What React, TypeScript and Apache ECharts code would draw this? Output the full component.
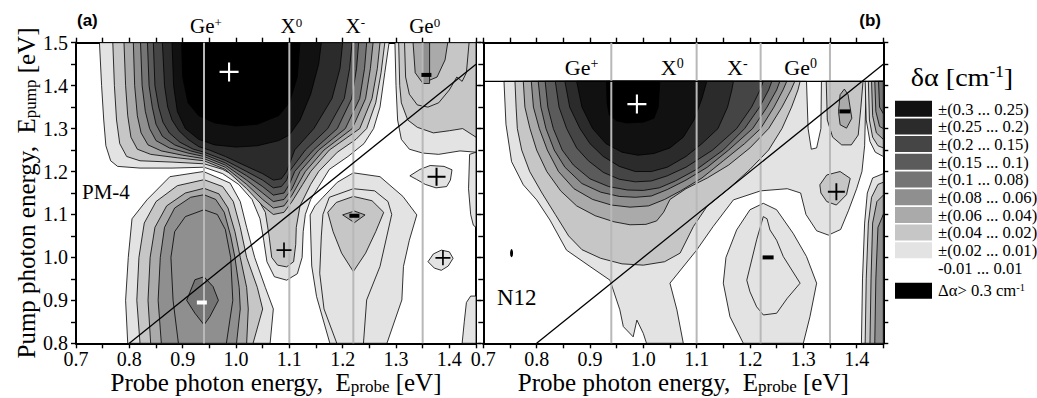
import React, { useEffect, useRef } from "react";
import * as echarts from "echarts";

type Pt = [number, number];
type Contour = [number, Pt[]];

const SERIF = "Liberation Serif, serif";
const SANS = "Liberation Sans, sans-serif";

// fill colour for each |δα| level (index = level)
const LEVEL_COLORS = ["#ffffff", "#e3e3e3", "#c6c6c6", "#aaaaaa", "#8f8f8f", "#757575", "#5b5b5b", "#454545", "#2b2b2b", "#111111", "#000000"];

const LEGEND_LABELS = ["±(0.3 ... 0.25)", "±(0.25 ... 0.2)", "±(0.2 ... 0.15)", "±(0.15 ... 0.1)", "±(0.1 ... 0.08)", "±(0.08 ... 0.06)", "±(0.06 ... 0.04)", "±(0.04 ... 0.02)", "±(0.02 ... 0.01)"];
const LEGEND_LEVELS = [9, 8, 7, 6, 5, 4, 3, 2, 1];

const PEAK_POSITIONS = [0.94, 1.1, 1.22, 1.35];
const PEAK_NAMES: [string, string][] = [["Ge", "+"], ["X", "0"], ["X", "-"], ["Ge", "0"]];
const DIAGONAL: Pt[] = [[0.8, 0.8], [1.45, 1.45]];
const B_CEILING: Pt[] = [[0.7, 1.41], [1.45, 1.41]];

// ---------- panel (a) PM-4 contours [level, outline] ----------
const A_TOP: Contour[] = [
  [1, [[0.744, 1.5], [0.748, 1.4], [0.752, 1.32], [0.756, 1.26], [0.765, 1.225], [0.778, 1.212], [0.82, 1.208], [0.88, 1.208], [0.94, 1.21], [0.975, 1.195], [1.005, 1.17], [1.03, 1.135], [1.045, 1.09], [1.052, 1.04], [1.058, 0.99], [1.072, 0.955], [1.095, 0.947], [1.115, 0.962], [1.124, 1.0], [1.126, 1.06], [1.13, 1.1], [1.14, 1.135], [1.155, 1.165], [1.175, 1.205], [1.21, 1.235], [1.24, 1.265], [1.258, 1.3], [1.27, 1.35], [1.279, 1.43], [1.287, 1.5]]],
  [2, [[0.769, 1.5], [0.772, 1.4], [0.776, 1.32], [0.782, 1.265], [0.795, 1.235], [0.82, 1.225], [0.88, 1.222], [0.94, 1.218], [0.975, 1.205], [1.005, 1.185], [1.035, 1.15], [1.055, 1.105], [1.062, 1.05], [1.067, 1.0], [1.078, 0.982], [1.095, 0.978], [1.108, 0.99], [1.112, 1.03], [1.113, 1.07], [1.12, 1.12], [1.14, 1.17], [1.155, 1.2], [1.19, 1.245], [1.225, 1.275], [1.245, 1.3], [1.262, 1.36], [1.272, 1.43], [1.279, 1.5]]],
  [3, [[0.79, 1.5], [0.793, 1.4], [0.797, 1.33], [0.803, 1.28], [0.815, 1.252], [0.84, 1.24], [0.89, 1.232], [0.94, 1.225], [0.98, 1.205], [1.02, 1.16], [1.05, 1.12], [1.07, 1.1], [1.09, 1.105], [1.105, 1.13], [1.125, 1.17], [1.14, 1.2], [1.175, 1.25], [1.232, 1.3], [1.255, 1.37], [1.265, 1.44], [1.27, 1.5]]],
  [4, [[0.8075, 1.5], [0.81, 1.4], [0.815, 1.33], [0.822, 1.29], [0.835, 1.262], [0.86, 1.248], [0.9, 1.238], [0.94, 1.23], [0.98, 1.21], [1.02, 1.17], [1.05, 1.135], [1.07, 1.115], [1.09, 1.12], [1.105, 1.145], [1.13, 1.2], [1.165, 1.25], [1.218, 1.3], [1.243, 1.37], [1.252, 1.44], [1.257, 1.5]]],
  [5, [[0.821, 1.5], [0.824, 1.4], [0.83, 1.34], [0.838, 1.3], [0.85, 1.272], [0.875, 1.255], [0.91, 1.243], [0.94, 1.235], [0.98, 1.215], [1.02, 1.18], [1.05, 1.15], [1.07, 1.13], [1.09, 1.135], [1.105, 1.16], [1.12, 1.2], [1.155, 1.25], [1.205, 1.3], [1.232, 1.37], [1.241, 1.44], [1.245, 1.5]]],
  [6, [[0.834, 1.5], [0.837, 1.4], [0.843, 1.35], [0.85, 1.31], [0.862, 1.282], [0.885, 1.262], [0.915, 1.248], [0.94, 1.24], [0.98, 1.22], [1.02, 1.19], [1.05, 1.165], [1.07, 1.145], [1.09, 1.15], [1.1, 1.17], [1.11, 1.2], [1.145, 1.25], [1.19, 1.3], [1.217, 1.37], [1.226, 1.44], [1.23, 1.5]]],
  [7, [[0.845, 1.5], [0.848, 1.4], [0.855, 1.35], [0.863, 1.315], [0.875, 1.29], [0.895, 1.268], [0.92, 1.252], [0.94, 1.245], [0.98, 1.226], [1.02, 1.2], [1.05, 1.18], [1.07, 1.162], [1.085, 1.165], [1.095, 1.18], [1.1, 1.2], [1.13, 1.25], [1.172, 1.3], [1.203, 1.37], [1.213, 1.44], [1.2175, 1.5]]],
  [8, [[0.862, 1.5], [0.866, 1.4], [0.872, 1.35], [0.88, 1.32], [0.893, 1.295], [0.91, 1.275], [0.93, 1.258], [0.95, 1.25], [0.98, 1.235], [1.02, 1.212], [1.05, 1.195], [1.07, 1.18], [1.085, 1.183], [1.095, 1.2], [1.11, 1.25], [1.146, 1.3], [1.18, 1.37], [1.195, 1.44], [1.2, 1.5]]],
  [9, [[0.88, 1.5], [0.883, 1.4], [0.89, 1.34], [0.905, 1.3], [0.93, 1.275], [0.96, 1.262], [1.0, 1.257], [1.04, 1.26], [1.08, 1.272], [1.1, 1.285], [1.12, 1.32], [1.14, 1.38], [1.155, 1.45], [1.16, 1.5]]],
  [10, [[0.898, 1.5], [0.9, 1.42], [0.91, 1.36], [0.93, 1.33], [0.96, 1.313], [1.0, 1.306], [1.04, 1.31], [1.08, 1.33], [1.1, 1.36], [1.115, 1.42], [1.12, 1.5]]],
];

const A_GE0: Contour[] = [
  [1, [[1.298, 1.5], [1.3, 1.4], [1.303, 1.32], [1.31, 1.275], [1.325, 1.252], [1.35, 1.243], [1.38, 1.24], [1.42, 1.248], [1.45, 1.245], [1.45, 1.5]]],
  [2, [[1.305, 1.5], [1.307, 1.4], [1.31, 1.36], [1.322, 1.32], [1.34, 1.303], [1.37, 1.29], [1.4, 1.295], [1.425, 1.3], [1.45, 1.28], [1.45, 1.5]]],
  [2, [[1.316, 1.5], [1.318, 1.42], [1.325, 1.38], [1.34, 1.355], [1.36, 1.35], [1.38, 1.36], [1.4, 1.39], [1.414, 1.42], [1.424, 1.41], [1.432, 1.43], [1.437, 1.5]]],
  [3, [[1.332, 1.5], [1.336, 1.43], [1.35, 1.406], [1.377, 1.42], [1.392, 1.46], [1.397, 1.5]]],
  [4, [[1.35, 1.5], [1.35, 1.405], [1.363, 1.405], [1.363, 1.5]]],
];

const A_BLOB_LOW: Contour[] = [
  [1, [[0.797, 0.8], [0.793, 0.9], [0.798, 1.0], [0.805, 1.09], [0.833, 1.134], [0.876, 1.188], [0.939, 1.2], [0.989, 1.173], [1.008, 1.13], [1.02, 1.07], [1.035, 1.0], [1.055, 0.93], [1.07, 0.88], [1.064, 0.8]]],
  [2, [[0.82, 0.8], [0.814, 0.9], [0.818, 1.0], [0.828, 1.08], [0.85, 1.13], [0.89, 1.167], [0.94, 1.181], [0.975, 1.165], [0.995, 1.13], [1.008, 1.07], [1.02, 1.0], [1.04, 0.93], [1.05, 0.88], [1.032, 0.8]]],
  [3, [[0.84, 0.8], [0.835, 0.9], [0.839, 1.0], [0.848, 1.07], [0.87, 1.12], [0.905, 1.15], [0.94, 1.161], [0.968, 1.148], [0.985, 1.115], [0.998, 1.06], [1.008, 1.0], [1.02, 0.93], [1.023, 0.88], [1.02, 0.8]]],
  [4, [[0.86, 0.8], [0.854, 0.9], [0.858, 1.0], [0.866, 1.07], [0.885, 1.115], [0.915, 1.14], [0.94, 1.146], [0.962, 1.135], [0.978, 1.105], [0.99, 1.05], [0.998, 1.0], [1.006, 0.93], [1.008, 0.88], [1.001, 0.8]]],
  [4, [[0.892, 0.8], [0.882, 0.9], [0.878, 1.0], [0.885, 1.06], [0.905, 1.095], [0.94, 1.111], [0.965, 1.1], [0.98, 1.065], [0.99, 1.0], [0.994, 0.9], [0.982, 0.8]]],
  [5, [[0.9075, 0.9], [0.923, 0.948], [0.94, 0.955], [0.957, 0.932], [0.967, 0.9], [0.951, 0.862], [0.94, 0.843], [0.923, 0.87]]],
];

const A_BLOB_XM: Contour[] = [
  [1, [[1.176, 0.8], [1.151, 0.909], [1.142, 0.98], [1.139, 1.099], [1.148, 1.12], [1.163, 1.14], [1.19, 1.175], [1.22, 1.197], [1.27, 1.188], [1.313, 1.142], [1.339, 1.099], [1.325, 1.04], [1.314, 0.979], [1.311, 0.901], [1.283, 0.8]]],
  [1, [[1.189, 0.8], [1.165, 0.88], [1.157, 0.963], [1.16, 1.05], [1.163, 1.1], [1.175, 1.14], [1.22, 1.16], [1.26, 1.155], [1.285, 1.13], [1.292, 1.1], [1.27, 0.979], [1.245, 0.901], [1.239, 0.8]]],
  [2, [[1.172, 1.105], [1.188, 1.128], [1.22, 1.142], [1.255, 1.132], [1.277, 1.105], [1.262, 1.06], [1.243, 1.01], [1.22, 0.967], [1.198, 1.01], [1.182, 1.06]]],
  [3, [[1.2, 1.099], [1.222, 1.108], [1.242, 1.099], [1.222, 1.081]]],
];

const A_SMALL: Contour[] = [
  [1, [[1.326, 1.19], [1.345, 1.205], [1.364, 1.214], [1.39, 1.212], [1.405, 1.204], [1.402, 1.18], [1.395, 1.165], [1.375, 1.162], [1.355, 1.17], [1.338, 1.182]]],
  [1, [[1.36, 0.99], [1.37, 1.008], [1.385, 1.017], [1.4, 1.013], [1.407, 0.998], [1.398, 0.98], [1.385, 0.97], [1.372, 0.975]]],
  [1, [[1.438, 1.24], [1.436, 1.16], [1.44, 1.1], [1.445, 1.075], [1.45, 1.07], [1.45, 1.245]]],
  [1, [[1.424, 0.8], [1.428, 0.85], [1.432, 0.895], [1.44, 0.91], [1.45, 0.91], [1.45, 0.8]]],
];

// ---------- panel (b) N12 contours ----------
const B_BIG: Contour[] = [
  [1, [[0.7388, 1.41], [0.7425, 1.31], [0.753, 1.223], [0.775, 1.169], [0.8, 1.134], [0.825, 1.087], [0.856, 1.017], [0.9, 0.979], [0.9375, 0.947], [0.956, 0.878], [0.9625, 0.839], [0.981, 0.815], [0.988, 0.854], [1.0, 0.823], [1.006, 0.8], [1.075, 0.8], [1.063, 0.878], [1.05, 0.94], [1.1, 1.017], [1.131, 1.072], [1.169, 1.134], [1.22, 1.155], [1.27, 1.16], [1.295, 1.15], [1.305, 1.1], [1.325, 1.062], [1.347, 1.052], [1.37, 1.065], [1.385, 1.11], [1.4, 1.16], [1.41, 1.2], [1.415, 1.26], [1.418, 1.41], [1.334, 1.41], [1.333, 1.3], [1.325, 1.255], [1.315, 1.252], [1.309, 1.3], [1.306, 1.41]]],
  [2, [[0.7594, 1.41], [0.7615, 1.35], [0.7638, 1.3], [0.772, 1.25], [0.787, 1.2], [0.81, 1.15], [0.835, 1.1], [0.86, 1.05], [0.885, 1.018], [0.92, 0.998], [0.96, 0.985], [1.0, 0.982], [1.04, 0.99], [1.069, 1.01], [1.094, 1.072], [1.119, 1.118], [1.16, 1.16], [1.2, 1.205], [1.235, 1.25], [1.26, 1.3], [1.278, 1.35], [1.29, 1.39], [1.294, 1.41]]],
  [3, [[0.775, 1.41], [0.778, 1.35], [0.7875, 1.3], [0.8, 1.25], [0.819, 1.2], [0.845, 1.155], [0.875, 1.12], [0.91, 1.097], [0.945, 1.083], [0.975, 1.076], [1.005, 1.077], [1.025, 1.085], [1.038, 1.105], [1.05, 1.135], [1.08, 1.16], [1.12, 1.185], [1.16, 1.215], [1.2, 1.255], [1.235, 1.3], [1.26, 1.35], [1.277, 1.39], [1.284, 1.41]]],
  [4, [[0.79, 1.41], [0.794, 1.35], [0.805, 1.3], [0.82, 1.25], [0.841, 1.2], [0.87, 1.16], [0.905, 1.135], [0.94, 1.122], [0.975, 1.117], [1.01, 1.12], [1.04, 1.135], [1.07, 1.155], [1.11, 1.185], [1.15, 1.225], [1.19, 1.265], [1.22, 1.3], [1.245, 1.35], [1.262, 1.39], [1.269, 1.41]]],
  [5, [[0.803, 1.41], [0.808, 1.35], [0.8175, 1.3], [0.833, 1.25], [0.853, 1.21], [0.885, 1.172], [0.92, 1.152], [0.955, 1.142], [0.985, 1.14], [1.015, 1.143], [1.045, 1.158], [1.08, 1.18], [1.12, 1.21], [1.16, 1.25], [1.205, 1.3], [1.232, 1.35], [1.25, 1.39], [1.256, 1.41]]],
  [6, [[0.816, 1.41], [0.821, 1.35], [0.8313, 1.3], [0.848, 1.25], [0.869, 1.215], [0.9, 1.183], [0.935, 1.165], [0.97, 1.157], [1.0, 1.156], [1.03, 1.162], [1.06, 1.178], [1.1, 1.205], [1.15, 1.25], [1.19, 1.3], [1.218, 1.35], [1.235, 1.39], [1.241, 1.41]]],
  [7, [[0.835, 1.41], [0.842, 1.35], [0.8563, 1.3], [0.875, 1.255], [0.897, 1.225], [0.925, 1.198], [0.955, 1.182], [0.985, 1.176], [1.015, 1.178], [1.045, 1.19], [1.08, 1.21], [1.13, 1.25], [1.175, 1.3], [1.203, 1.35], [1.219, 1.39], [1.225, 1.41]]],
  [8, [[0.853, 1.41], [0.862, 1.35], [0.8813, 1.3], [0.9, 1.265], [0.925, 1.235], [0.955, 1.212], [0.985, 1.2], [1.015, 1.2], [1.045, 1.21], [1.08, 1.235], [1.11, 1.265], [1.14, 1.3], [1.158, 1.35], [1.166, 1.39], [1.169, 1.41]]],
  [9, [[0.875, 1.41], [0.885, 1.35], [0.905, 1.3], [0.93, 1.265], [0.96, 1.245], [0.99, 1.238], [1.02, 1.242], [1.05, 1.255], [1.075, 1.28], [1.095, 1.32], [1.11, 1.37], [1.119, 1.41]]],
  [10, [[0.931, 1.41], [0.932, 1.36], [0.936, 1.332], [0.95, 1.318], [0.969, 1.313], [1.0, 1.315], [1.02, 1.324], [1.028, 1.35], [1.031, 1.41]]],
];

const B_GE0: Contour[] = [
  [2, [[1.343, 1.41], [1.345, 1.32], [1.355, 1.28], [1.372, 1.262], [1.39, 1.262], [1.403, 1.285], [1.408, 1.35], [1.412, 1.41]]],
  [3, [[1.369, 1.379], [1.366, 1.34], [1.369, 1.309], [1.381, 1.301], [1.391, 1.324], [1.384, 1.379], [1.377, 1.392]]],
  [2, [[1.331, 1.169], [1.344, 1.192], [1.369, 1.2], [1.388, 1.184], [1.381, 1.146], [1.362, 1.122], [1.344, 1.13], [1.333, 1.15]]],
];

const B_EDGE: Contour[] = [
  [1, [[1.416, 1.41], [1.418, 1.32], [1.425, 1.27], [1.435, 1.245], [1.45, 1.235], [1.45, 1.41]]],
  [2, [[1.422, 1.41], [1.424, 1.32], [1.43, 1.28], [1.44, 1.26], [1.45, 1.255], [1.45, 1.41]]],
  [3, [[1.428, 1.41], [1.43, 1.33], [1.437, 1.29], [1.45, 1.275], [1.45, 1.41]]],
  [4, [[1.434, 1.41], [1.436, 1.34], [1.443, 1.305], [1.45, 1.3], [1.45, 1.41]]],
  [5, [[1.441, 1.41], [1.443, 1.35], [1.45, 1.335], [1.45, 1.41]]],
  [1, [[1.409, 0.8], [1.411, 0.95], [1.415, 1.08], [1.42, 1.15], [1.43, 1.185], [1.45, 1.195], [1.45, 0.8]]],
  [2, [[1.416, 0.8], [1.418, 0.95], [1.422, 1.08], [1.428, 1.14], [1.44, 1.17], [1.45, 1.175], [1.45, 0.8]]],
  [3, [[1.425, 0.8], [1.427, 0.95], [1.43, 1.08], [1.438, 1.13], [1.45, 1.145], [1.45, 0.8]]],
  [4, [[1.434, 0.8], [1.436, 0.95], [1.44, 1.07], [1.45, 1.1], [1.45, 0.8]]],
];

const B_XM: Contour[] = [
  [1, [[1.1875, 0.8], [1.1625, 0.862], [1.15, 0.94], [1.155, 1.0], [1.175, 1.064], [1.2, 1.111], [1.225, 1.126], [1.25, 1.111], [1.281, 1.056], [1.306, 1.002], [1.325, 0.94], [1.3125, 0.862], [1.3, 0.8]]],
  [1, [[1.225, 1.095], [1.2125, 1.041], [1.194, 0.947], [1.2, 0.92], [1.2125, 0.885], [1.225, 0.866], [1.25, 0.87], [1.27, 0.905], [1.294, 0.94], [1.2625, 1.002], [1.25, 1.04], [1.2375, 1.064], [1.232, 1.09]]],
];

// ---------- sign markers ----------
const A_PLUS_WHITE: Pt[] = [[0.987, 1.432]];
const A_PLUS_BLACK: Pt[] = [[1.376, 1.188], [1.09, 1.017], [1.388, 0.999]];
const A_MINUS_BLACK: Pt[] = [[1.357, 1.425], [1.222, 1.097]];
const A_MINUS_WHITE: Pt[] = [[0.936, 0.895]];
const B_PLUS_WHITE: Pt[] = [[0.988, 1.357]];
const B_PLUS_BLACK: Pt[] = [[1.362, 1.153]];
const B_MINUS_BLACK: Pt[] = [[1.378, 1.34], [1.234, 1.0]];
const B_DOT: Pt[] = [[0.753, 1.01]];

const PLUS = "path://M8,0H10V8H18V10H10V18H8V10H0V8H8Z";

function contourSeries(list: Contour[], g: number) {
  const sorted = list
    .map((c, i) => ({ c, i }))
    .sort((a, b) => a.c[0] - b.c[0] || a.i - b.i)
    .map((o) => o.c);
  return {
    type: "custom",
    xAxisIndex: 2 * g,
    yAxisIndex: 2 * g,
    clip: true,
    silent: true,
    z: 1,
    data: sorted.map((c) => c[1][0]),
    renderItem: (params: any, api: any) => {
      const c = sorted[params.dataIndex];
      return {
        type: "polygon",
        shape: { points: c[1].map((p) => api.coord(p)) },
        style: { fill: LEVEL_COLORS[c[0]], stroke: "#000", lineWidth: 0.8 },
      };
    },
  };
}

function lineSeries(data: Pt[], g: number, color: string, width: number, z: number) {
  return { type: "line", xAxisIndex: 2 * g, yAxisIndex: 2 * g, data, symbol: "none", silent: true, z, lineStyle: { color, width } };
}

function markerSeries(data: Pt[], g: number, symbol: string, size: any, color: string) {
  return { type: "scatter", xAxisIndex: 2 * g, yAxisIndex: 2 * g, data, symbol, symbolSize: size, silent: true, z: 6, clip: false, itemStyle: { color, opacity: 1 } };
}

const fmt1 = (v: number) => (Math.round(v * 100) % 10 === 0 ? v.toFixed(1) : "");

const AXIS_LINE = { show: true, onZero: false, lineStyle: { color: "#000", width: 2 } };
const AXIS_TICK = { show: true, inside: false, length: 5, lineStyle: { color: "#000", width: 1.4 } };
const LABEL = { show: true, interval: 0, color: "#000", fontSize: 20, fontFamily: SERIF, formatter: fmt1 };

function xAxes(g: number) {
  const common = { type: "value", gridIndex: g, min: 0.7, max: 1.45, interval: 0.05, splitLine: { show: false }, axisLine: AXIS_LINE, axisTick: AXIS_TICK };
  return [
    { ...common, position: "bottom", axisLabel: { ...LABEL, margin: 6 } },
    { ...common, position: "top", axisLabel: { show: false } },
  ];
}

function yAxes(g: number) {
  const common = { type: "value", gridIndex: g, min: 0.8, max: 1.5, splitLine: { show: false }, axisLine: AXIS_LINE, axisTick: AXIS_TICK };
  return [
    { ...common, position: "left", interval: 0.05, axisLabel: g === 0 ? { ...LABEL, margin: 8 } : { show: false } },
    { ...common, position: "right", interval: g === 0 ? 0.1 : 0.05, axisLabel: { show: false } },
  ];
}

function panelSeries(g: number, contours: Contour[][]) {
  const s: any[] = contours.map((c) => contourSeries(c, g));
  PEAK_POSITIONS.forEach((x) => s.push(lineSeries([[x, 0.8], [x, 1.5]], g, "#b8b8b8", 2, 3)));
  s.push(lineSeries(DIAGONAL, g, "#000", 1.3, 4));
  return s;
}

const richMain = (size: number) => ({ fontSize: size, fontFamily: SERIF, lineHeight: size, color: "#000" });

function text(x: number, y: number, t: string, size: number, align: string, extra: any = {}) {
  return {
    type: "text",
    x,
    y,
    silent: true,
    z: 100,
    ...extra.el,
    style: {
      text: t,
      fill: "#000",
      fontSize: size,
      fontFamily: SERIF,
      align,
      textAlign: align,
      verticalAlign: "middle",
      textVerticalAlign: "middle",
      ...extra.style,
    },
  };
}

export default function App() {
  const ref = useRef<HTMLDivElement>(null);
  useEffect(() => {
    if (!ref.current) return;
    const chart = echarts.init(ref.current, undefined, { renderer: "svg" });
    const series: any[] = [
      ...panelSeries(0, [A_TOP, A_GE0, A_BLOB_LOW, A_BLOB_XM, A_SMALL]),
      ...panelSeries(1, [B_BIG, B_GE0, B_EDGE, B_XM]),
      lineSeries(B_CEILING, 1, "#000", 1.2, 4),
      markerSeries(A_PLUS_WHITE, 0, PLUS, 19, "#fff"),
      markerSeries(A_PLUS_BLACK.slice(0, 1), 0, PLUS, 18, "#000"),
      markerSeries(A_PLUS_BLACK.slice(1), 0, PLUS, 15, "#000"),
      markerSeries(A_MINUS_BLACK, 0, "rect", [10, 4], "#000"),
      markerSeries(A_MINUS_WHITE, 0, "rect", [10, 4], "#fff"),
      markerSeries(B_PLUS_WHITE, 1, PLUS, 19, "#fff"),
      markerSeries(B_PLUS_BLACK, 1, PLUS, 17, "#000"),
      markerSeries(B_MINUS_BLACK, 1, "rect", [11, 4], "#000"),
      markerSeries(B_DOT, 1, "circle", [3, 8], "#000"),
    ];
    const option: any = {
      animation: false,
      backgroundColor: "#fff",
      textStyle: { fontFamily: SERIF },
      grid: [
        { left: 76, top: 42.7, width: 400, height: 300.6 },
        { left: 483.3, top: 42.7, width: 400, height: 300.6 },
      ],
      xAxis: [...xAxes(0), ...xAxes(1)],
      yAxis: [...yAxes(0), ...yAxes(1)],
      series,
    };
    chart.setOption(option);

    const px = (g: number, p: Pt) => chart.convertToPixel({ xAxisIndex: 2 * g, yAxisIndex: 2 * g } as any, p) as number[];
    const g: any[] = [];
    const supRich = (size: number) => ({ m: richMain(size), s: { fontSize: Math.round(size * 0.62), fontFamily: SERIF, lineHeight: 8, verticalAlign: "top", color: "#000" } });
    const subRich = (size: number) => ({ m: richMain(size), s: { fontSize: Math.round(size * 0.66), fontFamily: SERIF, lineHeight: size - 8, verticalAlign: "bottom", color: "#000" } });
    const wide = { el: { scaleX: 1.04 } };

    PEAK_POSITIONS.forEach((x, i) => {
      const [n, s] = PEAK_NAMES[i];
      const pa = px(0, [x, 1.5]);
      g.push(text(pa[0] + 2, 26, `{m|${n}}{s|${s}}`, 21, "center", { style: { rich: supRich(21) } }));
      const pb = px(1, [x, 1.41]);
      g.push(text(pb[0] - 13, 67.5, `{m|${n}}{s|${s}}`, 22, "right", { style: { rich: supRich(22) } }));
    });

    g.push(text(77, 20, "(a)", 17, "left", { style: { fontFamily: SANS, fontWeight: "bold" } }));
    g.push(text(881, 20, "(b)", 17, "right", { style: { fontFamily: SANS, fontWeight: "bold" } }));
    g.push(text(82, 192, "PM-4", 21, "left"));
    g.push(text(497, 297, "N12", 23, "left"));

    const xt = "{m|Probe photon energy,  E}{s|probe}{m| [eV]}";
    const ca = px(0, [1.075, 0.8]);
    const cb = px(1, [1.075, 0.8]);
    g.push(text(ca[0], 382, xt, 25, "center", { style: { rich: subRich(25) } }));
    g.push(text(cb[0], 382, xt, 25, "center", { style: { rich: subRich(25) } }));
    g.push(
      text(26, 193, "{m|Pump photon energy,  E}{s|pump}{m| [eV]}", 25, "center", {
        el: { rotation: Math.PI / 2 },
        style: { rich: subRich(25) },
      })
    );

    // legend
    g.push(text(962, 77, "{m|δα [cm}{s|-1}{m|]}", 26, "center", { el: { scaleX: 1.08 }, style: { rich: supRich(26) } }));
    LEGEND_LEVELS.forEach((lvl, i) => {
      const top = 100.7 + i * 17.7;
      g.push({ type: "rect", silent: true, z: 100, shape: { x: 895, y: top, width: 37, height: 16 }, style: { fill: LEVEL_COLORS[lvl] } });
      g.push(text(938, top + 8.5, LEGEND_LABELS[i], 16, "left", wide));
    });
    g.push(text(938, 268.5, "-0.01 ... 0.01", 16, "left", wide));
    g.push({ type: "rect", silent: true, z: 100, shape: { x: 895, y: 282.7, width: 37, height: 16 }, style: { fill: LEVEL_COLORS[10] } });
    g.push(text(938, 291, "{m|Δα> 0.3 cm}{s|-1}", 16, "left", { el: { scaleX: 1.04 }, style: { rich: supRich(16) } }));

    chart.setOption({ graphic: g });
    return () => chart.dispose();
  }, []);
  return <div ref={ref} style={{ position: "fixed", left: 0, top: 0, width: 1037, height: 398 }} />;
}
